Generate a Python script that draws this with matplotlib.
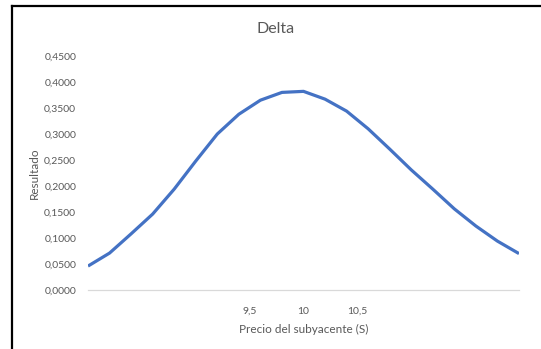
import matplotlib
matplotlib.use('Agg')
import matplotlib.pyplot as plt
from matplotlib.lines import Line2D

plt.rcParams['font.family'] = ['Lato', 'DejaVu Sans']

# precio del subyacente y delta
precio = [8.0, 8.2, 8.4, 8.6, 8.8, 9.0, 9.2, 9.4, 9.6, 9.8, 10.0,
          10.2, 10.4, 10.6, 10.8, 11.0, 11.2, 11.4, 11.6, 11.8, 12.0]
delta = [0.046, 0.071, 0.108, 0.146, 0.194, 0.248, 0.300, 0.338, 0.365, 0.380, 0.382,
         0.367, 0.344, 0.310, 0.271, 0.231, 0.194, 0.156, 0.123, 0.094, 0.070]

xticks = [9.5, 10, 10.5]
xtick_lbl = ['9,5', '10', '10,5']
yticks = [0.0, 0.05, 0.10, 0.15, 0.20, 0.25, 0.30, 0.35, 0.40, 0.45]

gray = '#595959'

fig = plt.figure(figsize=(5.41, 3.49), dpi=100)
ax = fig.add_axes([88 / 541, 1 - 290 / 349, (519 - 88) / 541, (290 - 56) / 349])

ax.plot(precio, delta, color='#4472C4', linewidth=2.3, solid_capstyle='butt')
ax.set_xlim(8, 12)
ax.set_ylim(0, 0.45)

ax.set_yticks(yticks)
ax.set_yticklabels(['{:.4f}'.format(v).replace('.', ',') for v in yticks])
ax.set_xticks(xticks)
ax.set_xticklabels(xtick_lbl)
ax.tick_params(length=0, labelsize=7.5, colors=gray)
ax.tick_params(axis='y', pad=8.5)
ax.tick_params(axis='x', pad=12)

for s in ['top', 'right', 'left']:
    ax.spines[s].set_visible(False)
ax.spines['bottom'].set_color('#d9d9d9')
ax.spines['bottom'].set_linewidth(0.9)

ax.set_xlabel('Precio del subyacente (S)', fontsize=8.5, color=gray, labelpad=6)
ax.set_ylabel('Resultado', fontsize=8.5, color=gray, labelpad=3)

fig.text(276 / 541, 1 - 29 / 349, 'Delta', ha='center', va='center', fontsize=11.5, color=gray)

# marco del area del grafico (recortado a la derecha y abajo)
fig.add_artist(Line2D([12 / 541, 12 / 541], [0, 1 - 5.5 / 349], color='black', linewidth=1.6,
                      transform=fig.transFigure))
fig.add_artist(Line2D([12 / 541, 1], [1 - 5.5 / 349, 1 - 5.5 / 349], color='black', linewidth=1.6,
                      transform=fig.transFigure))

plt.savefig('out.png', dpi=100)
